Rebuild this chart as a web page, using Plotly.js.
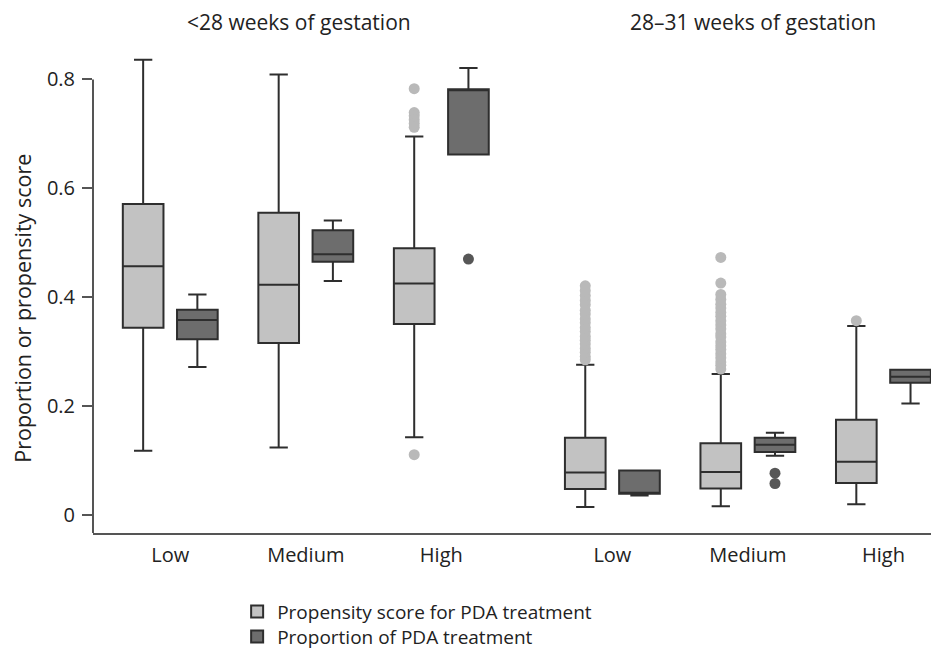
<!DOCTYPE html>
<html>
<head>
<meta charset="utf-8">
<script src="https://cdn.plot.ly/plotly-3.0.1.min.js"></script>
<style>html,body{margin:0;padding:0;background:#fff;} #chart{width:931px;height:653px;}</style>
</head>
<body>
<div id="chart"></div>
<script>
// ---- data ----
var panels = ["<28 weeks of gestation", "28\u201331 weeks of gestation"];
var categories = ["Low", "Medium", "High"];
var seriesNames = ["Propensity score for PDA treatment", "Proportion of PDA treatment"];
var yTitle = "Proportion or propensity score";

// order: panel1 Low, Medium, High, panel2 Low, Medium, High
var scoreQ1      = [0.344, 0.316, 0.351, 0.048, 0.049, 0.059];
var scoreMedian  = [0.457, 0.423, 0.425, 0.078, 0.079, 0.098];
var scoreQ3      = [0.571, 0.555, 0.490, 0.142, 0.132, 0.175];
var scoreLow     = [0.118, 0.124, 0.143, 0.015, 0.016, 0.020];
var scoreHigh    = [0.836, 0.809, 0.695, 0.276, 0.259, 0.347];

var propQ1       = [0.323, 0.465, 0.662, 0.039, 0.116, 0.243];
var propMedian   = [0.358, 0.479, 0.782, 0.039, 0.129, 0.254];
var propQ3       = [0.377, 0.523, 0.782, 0.082, 0.142, 0.267];
var propLow      = [0.272, 0.430, 0.662, 0.036, 0.109, 0.205];
var propHigh     = [0.405, 0.541, 0.821, 0.082, 0.151, 0.267];

// outliers per box (index matches the box order above)
var scoreOutliers = [
  [],
  [],
  [0.783, 0.739, 0.733, 0.726, 0.719, 0.712, 0.111],
  [0.285, 0.291, 0.299, 0.306, 0.314, 0.321, 0.328, 0.337, 0.344, 0.353, 0.360, 0.369, 0.376, 0.386, 0.394, 0.403, 0.412, 0.421],
  [0.268, 0.275, 0.281, 0.289, 0.296, 0.304, 0.311, 0.318, 0.327, 0.333, 0.342, 0.349, 0.357, 0.365, 0.372, 0.380, 0.387, 0.396, 0.405, 0.426, 0.473],
  [0.357]
];
var propOutliers = [
  [],
  [],
  [0.470],
  [],
  [0.077, 0.058],
  []
];

// ---- layout helpers ----
var panelGap = 3.262;   // start of second panel in category units
var boxOffset = 0.2;
var centers = [];
var tickText = [];
panels.forEach(function (p, pi) {
  categories.forEach(function (c, ci) {
    centers.push(pi * panelGap + ci);
    tickText.push(c);
  });
});
var xScore = centers.map(function (c) { return c - boxOffset; });
var xProp = centers.map(function (c) { return c + boxOffset; });

var lightFill = "#c2c2c2", darkFill = "#6d6d6d", edge = "#2e2e2e";

var traces = [
  {
    type: "box", name: seriesNames[0], x: xScore, legend: "legend",
    q1: scoreQ1, median: scoreMedian, q3: scoreQ3,
    lowerfence: scoreLow, upperfence: scoreHigh,
    width: 0.3, whiskerwidth: 0.45, boxpoints: false,
    fillcolor: lightFill, line: {color: edge, width: 2},
    hoverinfo: "skip"
  },
  {
    type: "box", name: seriesNames[1], x: xProp, legend: "legend2",
    q1: propQ1, median: propMedian, q3: propQ3,
    lowerfence: propLow, upperfence: propHigh,
    width: 0.3, whiskerwidth: 0.45, boxpoints: false,
    fillcolor: darkFill, line: {color: edge, width: 2},
    hoverinfo: "skip"
  }
];

function outlierTrace(xs, outs, color) {
  var ox = [], oy = [];
  outs.forEach(function (arr, i) {
    arr.forEach(function (v) { ox.push(xs[i]); oy.push(v); });
  });
  return {
    type: "scatter", mode: "markers", x: ox, y: oy, showlegend: false,
    marker: {color: color, size: 11, line: {width: 0}}, hoverinfo: "skip"
  };
}
traces.push(outlierTrace(xScore, scoreOutliers, "#b9b9b9"));
traces.push(outlierTrace(xProp, propOutliers, "#575757"));

var yBottom = -0.0329, yTop = 0.8723;
var font = "Open Sans, Noto Sans, sans-serif";
var legendFont = {size: 19, color: "#222"};

var layout = {
  width: 931, height: 653,
  margin: {l: 93, r: 0, t: 40, b: 120, autoexpand: false},
  paper_bgcolor: "#fff", plot_bgcolor: "#fff",
  font: {family: font, color: "#222", size: 20},
  showlegend: true,
  boxmode: "overlay",
  xaxis: {
    range: [-0.570, 5.613], tickmode: "array", tickvals: centers, ticktext: tickText,
    showline: true, linecolor: "#555", linewidth: 2, showgrid: false, zeroline: false,
    ticks: "", tickfont: {size: 20, color: "#222"}, ticklabelstandoff: 3
  },
  yaxis: {
    range: [yBottom, yTop], tickvals: [0, 0.2, 0.4, 0.6, 0.8], ticktext: ["0", "0.2", "0.4", "0.6", "0.8"],
    showline: false, showgrid: false, zeroline: false,
    ticks: "outside", ticklen: 10, tickwidth: 2, tickcolor: "#555",
    tickfont: {size: 20, color: "#222"}, ticklabelstandoff: 3
  },
  shapes: [
    {type: "line", xref: "paper", yref: "y", x0: 0, x1: 0, y0: yBottom, y1: 0.8,
     line: {color: "#555", width: 2}}
  ],
  annotations: [
    {text: panels[0], xref: "x", yref: "paper", x: 0.948, y: 1.037, showarrow: false,
     xanchor: "center", yanchor: "middle", font: {size: 21, color: "#222"}},
    {text: panels[1], xref: "x", yref: "paper", x: 4.297, y: 1.037, showarrow: false,
     xanchor: "center", yanchor: "middle", font: {size: 21, color: "#222"}},
    {text: yTitle, xref: "paper", yref: "paper", x: 0, y: 0.455, xshift: -70, textangle: -90,
     showarrow: false, xanchor: "center", yanchor: "middle", font: {size: 21.5, color: "#222"}}
  ],
  legend: {
    x: 0.172, y: -0.1596, xanchor: "left", yanchor: "middle", orientation: "v",
    font: legendFont, tracegroupgap: 0, bgcolor: "rgba(0,0,0,0)"
  },
  legend2: {
    x: 0.172, y: -0.2103, xanchor: "left", yanchor: "middle", orientation: "v",
    font: legendFont, tracegroupgap: 0, bgcolor: "rgba(0,0,0,0)"
  }
};

Plotly.newPlot("chart", traces, layout, {displayModeBar: false, staticPlot: true});
</script>
</body>
</html>
